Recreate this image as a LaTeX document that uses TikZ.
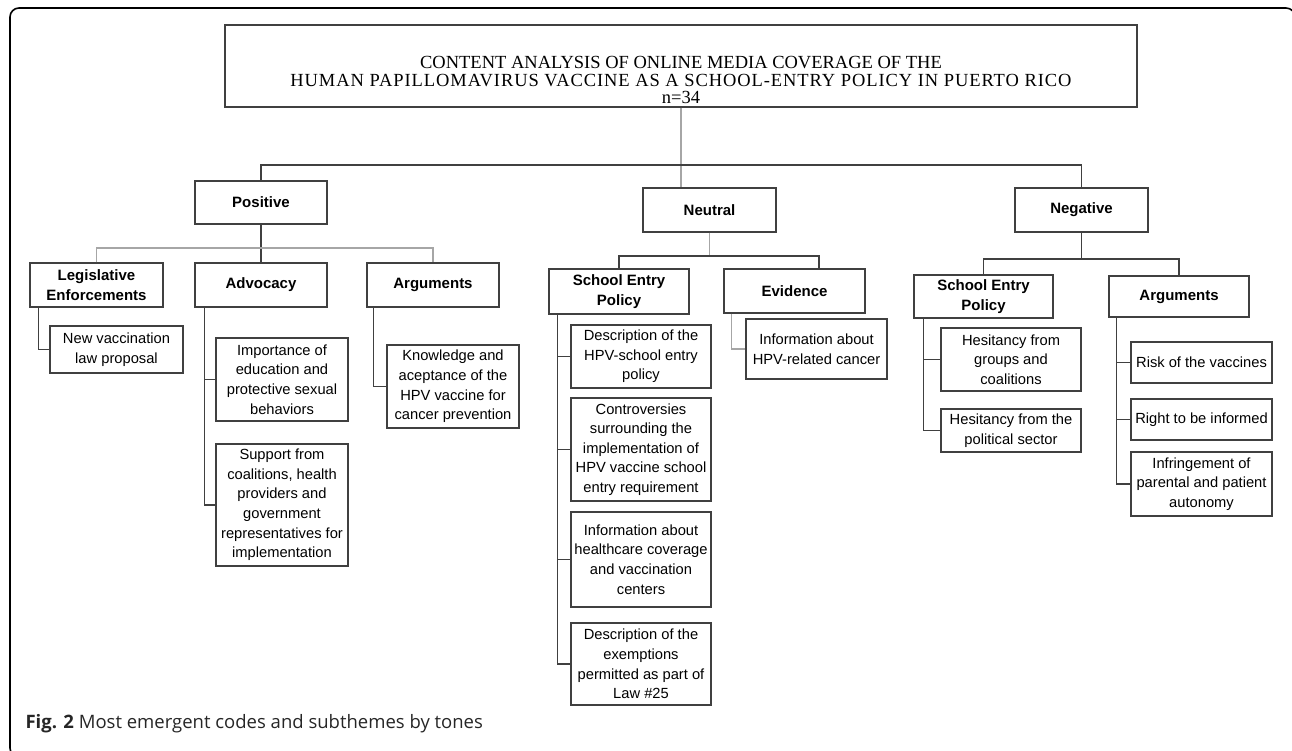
\documentclass[tikz,border=0pt]{standalone}
\usepackage{fontspec}
\setmainfont{Liberation Serif}
\setsansfont{Liberation Sans}
\newfontfamily\capfont{Open Sans}
\usetikzlibrary{positioning}
\tikzset{
  hdr/.style={rectangle, minimum width=912, minimum height=82, draw=black!75, line width=1.3pt},
  hdrtext/.style={align=center, font=\rmfamily\fontsize{18.5}{17.5}\selectfont},
  tone/.style={rectangle, minimum width=133, minimum height=44, text centered, draw=black!75, line width=1.3pt, font=\sffamily\bfseries\fontsize{15}{20}\selectfont},
  sub/.style={rectangle, minimum width=140, minimum height=44, align=center, draw=black!75, line width=1.3pt, font=\sffamily\bfseries\fontsize{15}{20}\selectfont},
  leaf/.style={rectangle, minimum width=140, inner xsep=2pt, align=center, draw=black!75, line width=1.3pt, font=\sffamily\fontsize{14.7}{19.6}\selectfont},
  link/.style={draw=black!75, line width=1.3pt},
  faint/.style={draw=black!35, line width=1.3pt},
  node distance=10pt
}
\begin{document}
\begin{tikzpicture}[x=1pt, y=-1pt]
	\useasboundingbox (0,0) rectangle (1292,751);
	\draw[black, line width=1.6pt, rounded corners=9pt] (10,8) rectangle (1295,757);
	%
	\node[hdr] (title) at (681,66) {};
	\node[hdrtext] (titletxt) at (681,80) {CONTENT ANALYSIS OF ONLINE MEDIA COVERAGE OF THE\\{\addfontfeature{LetterSpace=5}HUMAN PAPILLOMAVIRUS VACCINE AS A SCHOOL-ENTRY POLICY IN PUERTO RICO}\\n=34};
	%
	\node[tone, minimum height=43, minimum width=132] (pos) at (261,202.5) {Positive};
	\node[tone] (neu) at (709.5,210) {Neutral};
	\node[tone] (neg) at (1081.5,210) {Negative};
	%
	\node[sub, minimum width=133] (leg) at (96.5,285) {Legislative\\Enforcements};
	\node[sub, minimum width=132] (adv) at (261,285) {Advocacy};
	\node[sub, minimum width=132] (arg1) at (433,285) {Arguments};
	\node[sub, minimum height=45] (sep1) at (619,291.5) {School Entry\\Policy};
	\node[sub, minimum width=141] (evi) at (794.5,291) {Evidence};
	\node[sub, minimum width=139, minimum height=43] (sep2) at (983.5,296.5) {School Entry\\Policy};
	\node[sub, minimum height=41] (arg2) at (1179,296.5) {Arguments};
	%
	\node[leaf, minimum width=133, minimum height=47] (newlaw) at (116.5,349.5) {New vaccination\\law proposal};
	\node[leaf, minimum width=132, minimum height=83] (imp) at (282,379.5) {Importance of\\education and\\protective sexual\\behaviors};
	\node[leaf, minimum width=132, minimum height=122] (sup) at (282,505) {Support from\\coalitions, health\\providers and\\government\\representatives for\\implementation};
	\node[leaf, minimum width=132, minimum height=83] (know) at (453,386.5) {Knowledge and\\aceptance of the\\HPV vaccine for\\cancer prevention};
	%
	\node[leaf, minimum height=63] (d1) at (641,356.5) {Description of the\\HPV-school entry\\policy};
	\node[leaf, minimum height=103] (d2) at (641,449.5) {Controversies\\surrounding the\\implementation of\\HPV vaccine school\\entry requirement};
	\node[leaf, minimum height=95] (d3) at (641,559.5) {Information about\\healthcare coverage\\and vaccination\\centers};
	\node[leaf, minimum height=82] (d4) at (641,664) {Description of the\\exemptions\\permitted as part of\\Law \#25};
	\node[leaf, minimum width=141, minimum height=60] (info) at (816.5,349) {Information about\\HPV-related cancer};
	%
	\node[leaf, minimum height=63] (h1) at (1011,359.5) {Hesitancy from\\groups and\\coalitions};
	\node[leaf, minimum height=43] (h2) at (1011,430.5) {Hesitancy from the\\political sector};
	\node[leaf, minimum width=141, minimum height=41] (r1) at (1201.5,362.5) {Risk of the vaccines};
	\node[leaf, minimum width=141, minimum height=41] (r2) at (1201.5,419.5) {Right to be informed};
	\node[leaf, minimum width=141, minimum height=64] (r3) at (1201.5,484) {Infringement of\\parental and patient\\autonomy};
	%
	\node[anchor=west, text=black!85, font=\capfont\fontsize{18.5}{22}\selectfont] (cap) at (22,724) {\textbf{Fig. 2} Most emergent codes and subthemes by tones};
	%
	\coordinate (topbar) at (681,165);
	\coordinate (posbar) at (261,248);
	\coordinate (neubar) at (709.5,256);
	\coordinate (negbar) at (1081.5,259);
	\draw[faint] (title.south) -- (title.south |- neu.north);
	\draw[link] (pos.north) |- (topbar) -| (neg.north);
	\draw[link] (pos.south) -- (posbar) -- (adv.north);
	\draw[faint] (leg.north) |- (posbar) -| (arg1.north);
	\draw[faint] (neu.south) -- (neubar);
	\draw[link] (sep1.north) |- (neubar) -| ([xshift=24.5pt]evi.north);
	\draw[link] (neg.south) -- (negbar);
	\draw[link] (sep2.north) |- (negbar) -| (arg2.north);
	%
	\draw[link] ([xshift=9pt]leg.south west) |- (newlaw.west);
	\foreach \n in {imp,sup} \draw[link] ([xshift=10pt]adv.south west) |- (\n.west);
	\draw[link] ([xshift=7pt]arg1.south west) |- (know.west);
	\foreach \n in {d1,d2,d3,d4} \draw[link] ([xshift=9pt]sep1.south west) |- (\n.west);
	\draw[faint] ([xshift=8pt]evi.south west) |- (info.west);
	\foreach \n in {h1,h2} \draw[link] ([xshift=10pt]sep2.south west) |- (\n.west);
	\foreach \n in {r1,r2,r3} \draw[link] ([xshift=8pt]arg2.south west) |- (\n.west);
\end{tikzpicture}
\end{document}
